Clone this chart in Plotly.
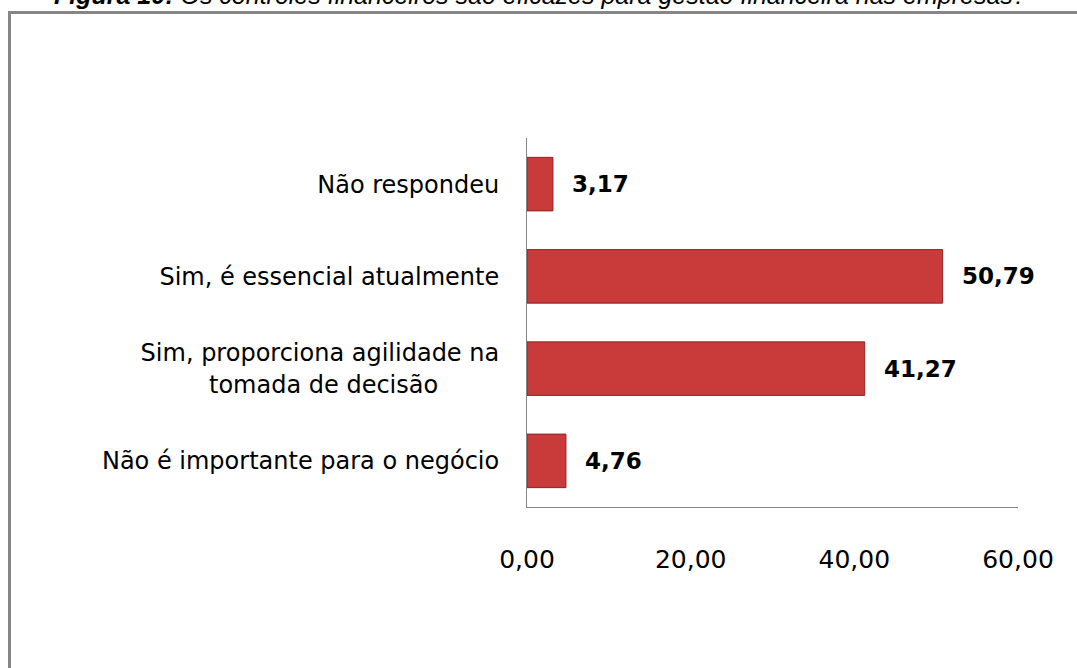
import plotly.graph_objects as go

categories = [
    "Não é importante para o negócio",
    "Sim, proporciona agilidade na<br>tomada de decisão\u00a0\u00a0\u00a0\u00a0\u00a0\u00a0\u00a0\u00a0",
    "Sim, é essencial atualmente",
    "Não respondeu",
]
values = [4.76, 41.27, 50.79, 3.17]
x_ticks = [0, 20, 40, 60]
title_text = "<b>Figura 10:</b> Os controles financeiros são eficazes para gestão financeira nas empresas?"

W, H = 1077, 668
L, R, T, B = 527, 59, 138, 161
pw, ph = W - L - R, H - T - B

def px_x(p):
    return (p - L) / pw

def px_y(p):
    return (H - B - p) / ph

fig = go.Figure()
fig.add_trace(go.Bar(
    x=values, y=categories, orientation="h",
    marker=dict(color="#C93A3A", line=dict(color="#8E2424", width=1)),
    hoverinfo="skip", showlegend=False,
))

for v, c in zip(values, categories):
    fig.add_annotation(
        x=v, y=c, xref="x", yref="y", text="<b>%s</b>" % f"{v:.2f}".replace(".", ","),
        showarrow=False, xanchor="left", yanchor="middle", xshift=17,
        font=dict(family="DejaVu Sans", size=23, color="#000000"),
    )

fig.add_annotation(
    x=px_x(540), y=px_y(11), xref="paper", yref="paper", text=title_text,
    showarrow=False, xanchor="center", yanchor="bottom",
    font=dict(family="Liberation Sans", size=25, color="#000000", style="italic"),
)

fig.add_shape(
    type="rect", xref="paper", yref="paper",
    x0=px_x(9.5), x1=px_x(1200), y0=px_y(800), y1=px_y(12.5),
    line=dict(color="#868686", width=3), fillcolor="rgba(0,0,0,0)", layer="below",
)

fig.update_layout(
    width=W, height=H,
    margin=dict(l=L, r=R, t=T, b=B, pad=0),
    paper_bgcolor="#FFFFFF", plot_bgcolor="#FFFFFF",
    separators=",.",
    bargap=0.42,
    xaxis=dict(
        range=[0, 60], tickvals=x_ticks, tickformat=".2f",
        showgrid=False, zeroline=False, showline=True, linecolor="#868686", linewidth=1,
        ticks="", ticklabelstandoff=30,
        tickfont=dict(family="DejaVu Sans", size=25, color="#000000"),
        fixedrange=True,
    ),
    yaxis=dict(
        showgrid=False, zeroline=False, showline=True, linecolor="#868686", linewidth=1,
        ticks="", ticklabelstandoff=22,
        tickfont=dict(family="DejaVu Sans", size=24, color="#000000"),
        fixedrange=True,
    ),
)

fig.write_html(
    "out.html",
    config={"displayModeBar": False},
    post_script="document.body.style.margin='0';document.body.style.overflow='hidden';",
)
